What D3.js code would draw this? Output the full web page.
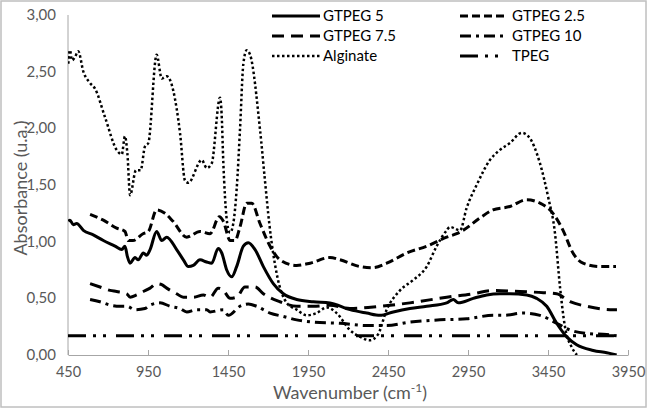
<!DOCTYPE html>
<html>
<head>
<meta charset="utf-8">
<script src="https://cdn.jsdelivr.net/npm/d3@7"></script>
<style>
  body { margin: 0; background: #fff; }
  text { font-family: Lato, "Liberation Sans", sans-serif; }
</style>
</head>
<body>
<script>
// spectra: [wavenumber, absorbance]
const gtpeg5 = [[452,1.18],[462,1.19],[483,1.15],[504,1.16],[546,1.10],[608,1.06],[671,1.01],[744,0.96],[786,0.93],[806,0.96],[821,0.87],[838,0.81],[869,0.86],[889,0.84],[921,0.90],[942,0.88],[963,0.93],[1004,1.09],[1036,1.01],[1067,1.04],[1129,0.93],[1171,0.84],[1202,0.78],[1233,0.79],[1275,0.84],[1317,0.82],[1348,0.81],[1389,0.94],[1411,0.90],[1442,0.75],[1473,0.69],[1504,0.78],[1546,0.96],[1577,0.99],[1619,0.93],[1671,0.78],[1733,0.63],[1796,0.54],[1879,0.49],[1983,0.47],[2087,0.46],[2212,0.40],[2317,0.37],[2400,0.35],[2483,0.38],[2587,0.41],[2692,0.43],[2817,0.46],[2858,0.49],[2889,0.46],[2983,0.50],[3067,0.53],[3150,0.54],[3212,0.54],[3317,0.53],[3379,0.50],[3442,0.43],[3504,0.28],[3567,0.16],[3629,0.09],[3733,0.04],[3817,0.02],[3879,0.00]]

const gtpeg25 = [[588,1.24],[671,1.19],[754,1.12],[806,1.09],[827,1.01],[856,1.01],[919,1.07],[952,1.09],[1004,1.28],[1056,1.25],[1106,1.18],[1192,1.04],[1275,1.09],[1338,1.07],[1396,1.22],[1421,1.18],[1463,1.01],[1494,1.01],[1525,1.13],[1567,1.34],[1598,1.34],[1650,1.16],[1713,0.96],[1775,0.84],[1879,0.79],[1963,0.81],[2087,0.86],[2150,0.84],[2275,0.78],[2356,0.77],[2442,0.81],[2567,0.90],[2692,0.96],[2817,1.04],[2879,1.07],[2919,1.10],[3025,1.21],[3106,1.28],[3212,1.31],[3317,1.37],[3400,1.34],[3481,1.25],[3544,1.10],[3606,0.90],[3669,0.81],[3775,0.78],[3875,0.78]]

const gtpeg75 = [[588,0.63],[650,0.60],[713,0.57],[754,0.56],[817,0.54],[838,0.51],[879,0.53],[921,0.56],[963,0.59],[1004,0.63],[1036,0.62],[1067,0.59],[1129,0.54],[1171,0.51],[1233,0.51],[1296,0.53],[1338,0.51],[1389,0.59],[1421,0.57],[1463,0.50],[1504,0.51],[1556,0.60],[1619,0.60],[1671,0.54],[1775,0.47],[1879,0.43],[1983,0.43],[2087,0.44],[2212,0.41],[2400,0.43],[2587,0.46],[2817,0.51],[2983,0.54],[3108,0.57],[3275,0.56],[3421,0.55],[3504,0.54],[3588,0.47],[3692,0.43],[3858,0.40],[3881,0.40]]

const gtpeg10 = [[588,0.49],[650,0.47],[713,0.44],[775,0.43],[817,0.43],[869,0.40],[931,0.41],[963,0.44],[1025,0.46],[1088,0.43],[1150,0.41],[1192,0.38],[1254,0.40],[1317,0.40],[1338,0.38],[1421,0.40],[1452,0.35],[1525,0.43],[1577,0.45],[1629,0.43],[1713,0.37],[1796,0.34],[1879,0.31],[1983,0.29],[2150,0.28],[2317,0.26],[2442,0.26],[2587,0.29],[2775,0.31],[2942,0.32],[3108,0.35],[3171,0.35],[3296,0.37],[3400,0.35],[3504,0.28],[3588,0.22],[3692,0.19],[3817,0.18],[3879,0.17]]

const alginate = [[452,2.57],[462,2.69],[475,2.60],[494,2.63],[514,2.68],[546,2.50],[588,2.40],[619,2.35],[681,2.10],[754,1.81],[786,1.77],[806,1.93],[821,1.78],[838,1.41],[875,1.63],[904,1.63],[931,1.84],[952,1.87],[1004,2.65],[1036,2.44],[1067,2.46],[1150,1.96],[1181,1.54],[1202,1.52],[1286,1.72],[1317,1.65],[1348,1.69],[1400,2.27],[1410,2.13],[1421,1.69],[1431,1.40],[1450,1.12],[1463,1.08],[1483,1.16],[1504,1.46],[1525,1.99],[1546,2.57],[1567,2.69],[1588,2.65],[1650,1.99],[1681,1.54],[1708,1.16],[1754,0.72],[1817,0.46],[1879,0.40],[1942,0.35],[2004,0.37],[2067,0.42],[2129,0.37],[2212,0.22],[2275,0.16],[2337,0.13],[2387,0.18],[2442,0.40],[2525,0.57],[2606,0.66],[2692,0.78],[2754,0.96],[2817,1.10],[2837,1.13],[2900,1.10],[2942,1.30],[3004,1.50],[3087,1.72],[3150,1.81],[3212,1.87],[3286,1.96],[3327,1.93],[3400,1.69],[3450,1.40],[3494,1.07],[3525,0.60],[3556,0.25],[3598,0.07],[3631,0.00]]

const tpeg = [[450,0.17],[3880,0.17]]

const xTicks = [450, 950, 1450, 1950, 2450, 2950, 3450, 3950]
const yTicks = [0, 0.5, 1, 1.5, 2, 2.5, 3]

let w = 649
let h = 410
let margin = {left: 68, right: 21, top: 15, bottom: 55}

let svg = d3.select('body').append('svg').attr('width', w).attr('height', h)

// chart border
svg.append('rect').attr('x', 1).attr('y', 1).attr('width', 645).attr('height', 406)
  .attr('fill', '#fff').attr('stroke', '#bfbfbf').attr('stroke-width', 1.5)

let x = d3.scaleLinear().domain([450, 3950]).range([margin.left, w - margin.right])
let y = d3.scaleLinear().domain([0, 3]).range([h - margin.bottom, margin.top])

svg.append('clipPath').attr('id', 'plot')
  .append('rect').attr('x', margin.left).attr('y', margin.top)
  .attr('width', x(3950) - margin.left + 4).attr('height', y(0) - margin.top)

// y axis: line only, labels
svg.append('line').attr('x1', x(450)).attr('x2', x(450)).attr('y1', y(3)).attr('y2', y(0))
  .attr('stroke', '#a6a6a6').attr('stroke-width', 1)
svg.selectAll('.ylab').data(yTicks).enter().append('text')
  .attr('x', 56).attr('y', d => y(d) + 5)
  .attr('text-anchor', 'end').attr('font-size', '15px').attr('fill', '#595959')
  .text(d => d3.format('.2f')(d).replace('.', ','))

// x axis with inside ticks
let xAxis = svg.append('g').attr('transform', 'translate(0,' + y(0) + ')')
  .call(d3.axisBottom(x).tickValues(xTicks).tickSizeInner(-5).tickSizeOuter(0).tickFormat(d => d))
xAxis.select('.domain').attr('stroke', '#a6a6a6')
xAxis.selectAll('line').attr('stroke', '#a6a6a6')
xAxis.selectAll('text').attr('font-size', '14.5px').attr('fill', '#595959')
  .attr('font-family', 'Lato, "Liberation Sans", sans-serif').attr('dy', '1.3em')

// axis titles
svg.append('text').attr('x', 350).attr('y', 399).attr('text-anchor', 'middle')
  .attr('font-size', '18px').attr('fill', '#595959')
  .html('Wavenumber (cm<tspan dy="-7" font-size="12px">-1</tspan><tspan dy="7">)</tspan>')
svg.append('text').attr('transform', 'translate(27,' + (y(1.5) + 3) + ') rotate(-90)')
  .attr('text-anchor', 'middle').attr('font-size', '18px').attr('fill', '#595959')
  .text('Absorbance (u.a.)')

let series = [
  {name: 'GTPEG 5', data: gtpeg5, dash: null},
  {name: 'GTPEG 2.5', data: gtpeg25, dash: '8,4'},
  {name: 'GTPEG 7.5', data: gtpeg75, dash: '12,7'},
  {name: 'GTPEG 10', data: gtpeg10, dash: '11,5,3,5'},
  {name: 'Alginate', data: alginate, dash: '2.5,2.5'},
  {name: 'TPEG', data: tpeg, dash: '18,7,3,7,3,10'}
]

let line = d3.line().x(d => x(d[0])).y(d => y(d[1])).curve(d3.curveMonotoneX)

svg.append('g').attr('clip-path', 'url(#plot)')
  .selectAll('path').data(series).enter().append('path')
  .attr('d', d => line(d.data))
  .attr('fill', 'none').attr('stroke', '#000')
  .attr('stroke-width', d => d.name == 'Alginate' ? 2.5 : 3)
  .attr('stroke-dasharray', d => d.dash)

// legend
let leg = svg.selectAll('.leg').data(series).enter().append('g')
  .attr('transform', (d, i) => 'translate(' + (i % 2 ? 460 : 272) + ',' + (16 + Math.floor(i / 2) * 20) + ')')
leg.append('line').attr('x1', 0).attr('x2', 48).attr('y1', 0).attr('y2', 0)
  .attr('stroke', '#000').attr('stroke-width', d => d.name == 'Alginate' ? 2.5 : 3)
  .attr('stroke-dasharray', d => d.dash)
leg.append('text').attr('x', (d, i) => i % 2 ? 52 : 51).attr('y', 5)
  .attr('font-size', '15px').attr('fill', '#000').text(d => d.name)
</script>
</body>
</html>
